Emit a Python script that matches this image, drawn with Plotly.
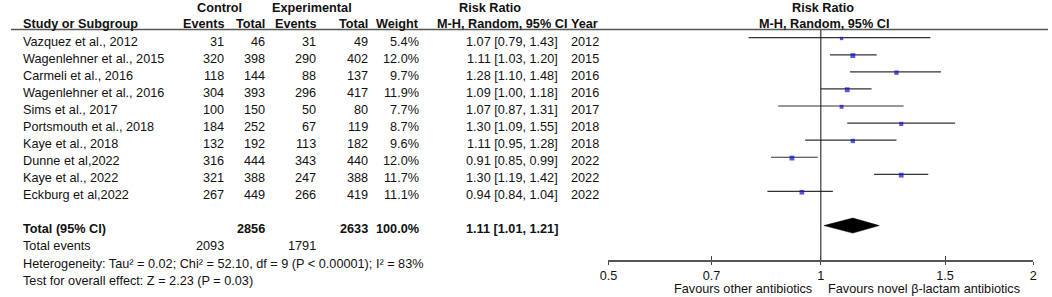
import plotly.graph_objects as go

# ---------------- data ----------------
studies = ["Vazquez et al., 2012", "Wagenlehner et al., 2015", "Carmeli et al., 2016",
           "Wagenlehner et al., 2016", "Sims et al., 2017", "Portsmouth et al., 2018",
           "Kaye et al., 2018", "Dunne et al,2022", "Kaye et al., 2022", "Eckburg et al,2022"]
ctrl_events = [31, 320, 118, 304, 100, 184, 132, 316, 321, 267]
ctrl_total = [46, 398, 144, 393, 150, 252, 192, 444, 388, 449]
exp_events = [31, 290, 88, 296, 50, 67, 113, 343, 247, 266]
exp_total = [49, 402, 137, 417, 80, 119, 182, 440, 388, 419]
weights = [5.4, 12.0, 9.7, 11.9, 7.7, 8.7, 9.6, 12.0, 11.7, 11.1]
rr = [1.07, 1.11, 1.28, 1.09, 1.07, 1.30, 1.11, 0.91, 1.30, 0.94]
rr_lo = [0.79, 1.03, 1.10, 1.00, 0.87, 1.09, 0.95, 0.85, 1.19, 0.84]
rr_hi = [1.43, 1.20, 1.48, 1.18, 1.31, 1.55, 1.28, 0.99, 1.42, 1.04]
years = [2012, 2015, 2016, 2016, 2017, 2018, 2018, 2022, 2022, 2022]

total_ctrl = 2856
total_exp = 2633
total_weight = 100.0
events_ctrl = 2093
events_exp = 1791
pooled_rr, pooled_lo, pooled_hi = 1.11, 1.01, 1.21

heterogeneity = "Heterogeneity: Tau² = 0.02; Chi² = 52.10, df = 9 (P < 0.00001); I² = 83%"
overall_test = "Test for overall effect: Z = 2.23 (P = 0.03)"
tick_vals = [0.5, 0.7, 1, 1.5, 2]
tick_text = ["0.5", "0.7", "1", "1.5", "2"]
favours_left = "Favours other antibiotics"
favours_right = "Favours novel β-lactam antibiotics"

# ---------------- layout constants ----------------
W, H = 1052, 297
AXIS_Y = 260.0          # pixel row of the forest x axis
ROW0, STEP, TDY = 37.7, 17.08, 3.8
FONT = "Liberation Sans, Arial, sans-serif"
FS = 12.7
TXT = "#111111"


def px(x):
    return x / W


def py(y):
    return (AXIS_Y - y) / AXIS_Y


def row_y(i):
    return ROW0 + i * STEP


annotations = []


def txt(x, y, s, anchor="left", bold=False):
    annotations.append(dict(
        x=px(x), y=py(y), xref="paper", yref="paper", text=f"<b>{s}</b>" if bold else s,
        showarrow=False, xanchor=anchor, yanchor="middle",
        font=dict(family=FONT, size=FS, color=TXT), borderpad=0))


# headers
H1, H2 = 8.5, 23.5
txt(213, H1, "Control", "center", True)
txt(307, H1, "Experimental", "center", True)
txt(487, H1, "Risk Ratio", "center", True)
txt(824, H1, "Risk Ratio", "center", True)
txt(13, H2, "Study or Subgroup", "left", True)
txt(220, H2, "Events", "right", True)
txt(260, H2, "Total", "right", True)
txt(313, H2, "Events", "right", True)
txt(365, H2, "Total", "right", True)
txt(416, H2, "Weight", "right", True)
txt(432, H2, "M-H, Random, 95% CI", "left", True)
txt(568, H2, "Year", "left", True)
txt(825, H2, "M-H, Random, 95% CI", "center", True)

# study rows
for i, s in enumerate(studies):
    y = row_y(i) + TDY
    txt(13, y, s, "left")
    txt(219, y, str(ctrl_events[i]), "right")
    txt(260, y, str(ctrl_total[i]), "right")
    txt(312, y, str(exp_events[i]), "right")
    txt(365, y, str(exp_total[i]), "right")
    txt(416, y, f"{weights[i]:.1f}%", "right")
    txt(557, y, f"{rr[i]:.2f} [{rr_lo[i]:.2f}, {rr_hi[i]:.2f}]", "right")
    txt(568, y, str(years[i]), "left")

n = len(studies)
y_tot = row_y(n + 1)
txt(13, y_tot + TDY, "Total (95% CI)", "left", True)
txt(260, y_tot + TDY, str(total_ctrl), "right", True)
txt(365, y_tot + TDY, str(total_exp), "right", True)
txt(416, y_tot + TDY, f"{total_weight:.1f}%", "right", True)
txt(557, y_tot + TDY, f"{pooled_rr:.2f} [{pooled_lo:.2f}, {pooled_hi:.2f}]", "right", True)
txt(13, row_y(n + 2) + TDY, "Total events", "left")
txt(219, row_y(n + 2) + TDY, str(events_ctrl), "right")
txt(312, row_y(n + 2) + TDY, str(events_exp), "right")
txt(13, row_y(n + 3) + TDY, heterogeneity, "left")
txt(13, row_y(n + 4) + TDY, overall_test, "left")

txt(814, 288.5, favours_left, "right")
txt(828, 288.5, favours_right, "left")

# ---------------- traces ----------------
fig = go.Figure()

# reference line at RR = 1
fig.add_trace(go.Scatter(x=[1, 1], y=[29.5, AXIS_Y], mode="lines",
                         line=dict(color="#111111", width=1), xaxis="x2", yaxis="y",
                         hoverinfo="skip", showlegend=False))

# confidence intervals
cx, cy = [], []
for i in range(n):
    cx += [rr_lo[i], rr_hi[i], None]
    cy += [row_y(i), row_y(i), None]
fig.add_trace(go.Scatter(x=cx, y=cy, mode="lines", line=dict(color="#333333", width=1.2),
                         hoverinfo="skip", showlegend=False))

# point estimates (square size ~ sqrt(weight))
fig.add_trace(go.Scatter(x=rr, y=[row_y(i) + 0.8 for i in range(n)], mode="markers",
                         marker=dict(symbol="square", color="#1010CC",
                                     size=[1.4 * w ** 0.5 for w in weights], line=dict(width=0)),
                         hoverinfo="skip", showlegend=False))

# pooled diamond
dh = 7.5
fig.add_trace(go.Scatter(x=[pooled_lo, pooled_rr, pooled_hi, pooled_rr, pooled_lo],
                         y=[y_tot, y_tot - dh, y_tot, y_tot + dh, y_tot],
                         mode="lines", fill="toself", fillcolor="#000000",
                         line=dict(color="#000000", width=0.5),
                         hoverinfo="skip", showlegend=False))

dom = [607 / W, 1037 / W]
axis_common = dict(type="log", range=[-0.30103, 0.30103], domain=dom, fixedrange=True,
                   showgrid=False, zeroline=False, tickvals=tick_vals)
fig.update_layout(
    width=W, height=H,
    margin=dict(l=0, r=0, t=0, b=H - AXIS_Y),
    paper_bgcolor="white", plot_bgcolor="white",
    showlegend=False,
    xaxis=dict(**axis_common, showline=True, linecolor="#555555", linewidth=1.5,
               ticks="outside", ticklen=3, tickwidth=1.2, tickcolor="#444444",
               ticktext=tick_text, ticklabelstandoff=0,
               tickfont=dict(family=FONT, size=FS, color=TXT)),
    xaxis2=dict(**axis_common, overlaying="x", anchor="y", showline=False,
                ticks="inside", ticklen=4, tickwidth=1.2, tickcolor="#444444",
                showticklabels=False),
    yaxis=dict(range=[AXIS_Y, 0], visible=False, fixedrange=True, domain=[0, 1]),
    shapes=[dict(type="line", xref="paper", yref="y", x0=2 / W, x1=1, y0=29.5, y1=29.5,
                 line=dict(color="#555555", width=1.5))],
    annotations=annotations,
)

fig.write_html("out.html", config={"displayModeBar": False},
               post_script="document.body.style.margin='0';"
                           "document.documentElement.style.overflow='hidden';")
